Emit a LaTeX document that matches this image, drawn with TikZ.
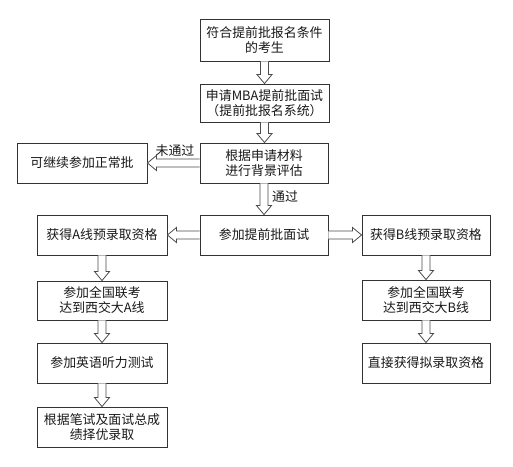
\documentclass[tikz,border=0pt]{standalone}
\usepackage{fontspec}
\setmainfont{Noto Sans CJK SC}
\usetikzlibrary{calc}
\tikzset{
  box/.style={draw=black!80, line width=0.9pt, fill=white, align=center,
    inner sep=0pt, text=black!90, font=\fontsize{12.9}{15}\selectfont},
  lbl/.style={inner sep=0pt, text=black!90, font=\fontsize{12.9}{15}\selectfont},
  hollow/.style={draw=black!70, line width=0.8pt, fill=white, line join=miter}
}
\newcommand\varrow[2]{\draw[hollow] let \p1=(#1), \p2=(#2) in
  (\x1-4pt,\y1) -- (\x1-4pt,\y2+9pt) -- (\x1-7.5pt,\y2+9pt) -- (\x1,\y2)
  -- (\x1+7.5pt,\y2+9pt) -- (\x1+4pt,\y2+9pt) -- (\x1+4pt,\y1);}
\newcommand\harrow[2]{\draw[hollow] let \p1=(#1), \p2=(#2), \p3=($(#2)!9pt!(#1)$) in
  (\x1,\y1+4pt) -- (\x3,\y1+4pt) -- (\x3,\y1+7.5pt) -- (\x2,\y1)
  -- (\x3,\y1-7.5pt) -- (\x3,\y1-4pt) -- (\x1,\y1-4pt);}
\begin{document}
\begin{tikzpicture}[x=1pt,y=-1pt]
\useasboundingbox[fill=white] (0,0) rectangle (513,466);
% boxes
\node[box, minimum width=129pt, minimum height=42pt] (b1) at (264.5,40) {符合提前批报名条件\\的考生};
\node[box, minimum width=129pt, minimum height=38pt] (b2) at (264.5,103) {申请MBA提前批面试\\（提前批报名系统）};
\node[box, minimum width=128pt, minimum height=40pt] (b3) at (264,163) {根据申请材料\\进行背景评估};
\node[box, minimum width=130pt, minimum height=40pt] (lf) at (82,163) {可继续参加正常批};
\node[box, minimum width=128pt, minimum height=40pt] (b4) at (264,235) {参加提前批面试};
\node[box, minimum width=130pt, minimum height=40pt] (a1) at (102,235) {获得A线预录取资格};
\node[box, minimum width=128pt, minimum height=40pt] (c1) at (426,235) {获得B线预录取资格};
\node[box, minimum width=130pt, minimum height=39pt] (a2) at (102,300.5) {参加全国联考\\达到西交大A线};
\node[box, minimum width=130pt, minimum height=40pt] (a3) at (102,363) {参加英语听力测试};
\node[box, minimum width=130pt, minimum height=40pt] (a4) at (102,427) {根据笔试及面试总成\\绩择优录取};
\node[box, minimum width=128pt, minimum height=40pt] (c2) at (426,300) {参加全国联考\\达到西交大B线};
\node[box, minimum width=128pt, minimum height=40pt] (c3) at (426,363) {直接获得拟录取资格};
% arrows
\varrow{b1.south}{b2.north}
\varrow{b2.south}{b3.north}
\varrow{b3.south}{b4.north}
\harrow{b3.west}{lf.east}
\harrow{b4.west}{a1.east}
\harrow{b4.east}{c1.west}
\varrow{a1.south}{a2.north}
\varrow{a2.south}{a3.north}
\varrow{a3.south}{a4.north}
\varrow{c1.south}{c2.north}
\varrow{c2.south}{c3.north}
% labels
\node[lbl] (n1) at (175,151) {未通过};
\node[lbl] (n2) at (285,197) {通过};
\end{tikzpicture}
\end{document}
